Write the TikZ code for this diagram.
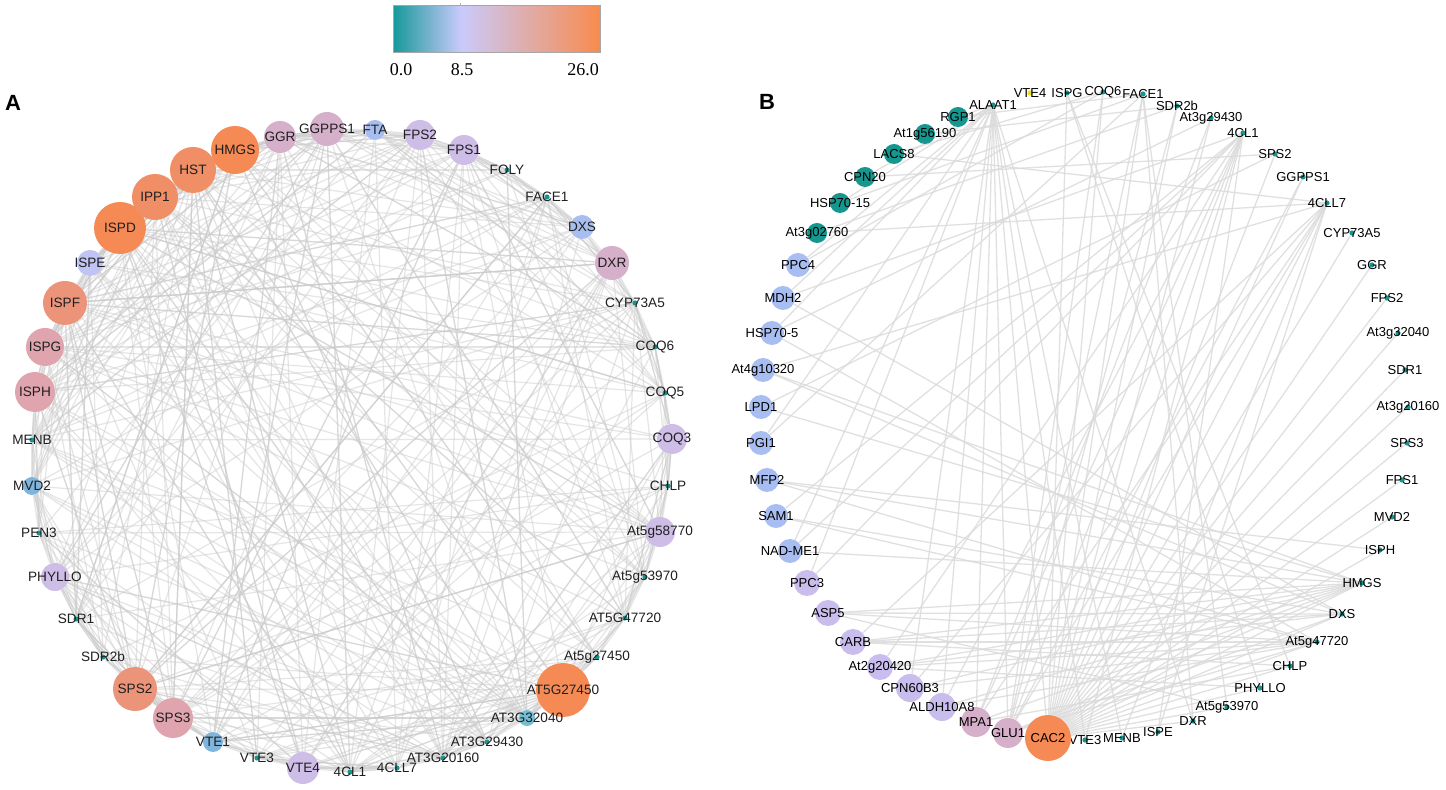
\documentclass[tikz,border=0pt]{standalone}
\usepackage{fontspec}
\setmainfont{Liberation Sans}
\newfontfamily\barfont{Liberation Serif}
\definecolor{cteal}{HTML}{15968F}
\definecolor{cbarteal}{HTML}{17999A}
\definecolor{cbarlav}{HTML}{CACAFB}
\definecolor{cbarorange}{HTML}{F88B4E}
\definecolor{corange}{HTML}{F58A55}
\definecolor{corange2}{HTML}{F08F66}
\definecolor{csalmon}{HTML}{EC9479}
\definecolor{cpink}{HTML}{DFA4AE}
\definecolor{cmauve}{HTML}{D6B0CA}
\definecolor{cpurple}{HTML}{CEBDE7}
\definecolor{cblue}{HTML}{A9BEF0}
\definecolor{cmblue}{HTML}{7FB4DC}
\definecolor{cltb}{HTML}{74BED3}
\definecolor{clav}{HTML}{BFC4F5}
\definecolor{cbblue}{HTML}{A8BDF1}
\definecolor{cblav}{HTML}{C8BDEC}
\definecolor{cyellow}{HTML}{E6E01E}
\pgfdeclarehorizontalshading{cbarshade}{100bp}{color(0bp)=(cbarteal); color(25bp)=(cbarteal); color(41.35bp)=(cbarlav); color(75bp)=(cbarorange); color(100bp)=(cbarorange)}
\pgfdeclarelayer{bg}
\pgfsetlayers{bg,main}
\tikzset{
  gn/.style={circle, draw=none, inner sep=0pt},
  lblA/.style={font=\fontsize{6.8}{7}\selectfont, text=black!88, inner sep=0pt},
  lblB/.style={font=\fontsize{6.5}{7}\selectfont, text=black, inner sep=0pt},
  edgeA/.style={draw=black!20, line width=0.6pt, opacity=0.5},
  edgeB/.style={draw=black!14, line width=0.65pt, opacity=0.85},
  panel/.style={font=\bfseries\fontsize{11}{12}\selectfont, inner sep=0pt},
  barlbl/.style={font=\barfont\fontsize{9}{10}\selectfont, inner sep=0pt}
}
\newcommand\NodeA[6]{\node[gn,fill=#5,minimum size=#4pt,label={[lblA]center:#6}] (#1) at (#2,#3) {};}
\newcommand\NodeB[6]{\node[gn,fill=#5,minimum size=#4pt,label={[lblB]center:#6}] (#1) at (#2,#3) {};}
\begin{document}
\begin{tikzpicture}[x=0.5pt,y=-0.5pt]
\useasboundingbox (0,0) rectangle (1446,790);
\begin{pgfonlayer}{bg}
\fill[white] (0,0) rectangle (1446,790);
\end{pgfonlayer}
% colour bar
\node[shading=cbarshade, draw=gray!70, line width=0.4pt, minimum width=103.5pt, minimum height=23.5pt, inner sep=0pt, anchor=north west] (cbar) at (393,5) {};
\draw[gray!60, line width=0.4pt] (460,3) -- (460,6);
\node[barlbl] (t0) at (401,70) {0.0};
\node[barlbl] (t1) at (462,70) {8.5};
\node[barlbl] (t2) at (583,70) {26.0};
\node[panel] (pA) at (13,103) {A};
\node[panel] (pB) at (767,102) {B};
% ---------------- panel A nodes
\NodeA{a1}{280}{137}{16}{cmauve}{GGR}
\NodeA{a2}{327}{129}{17}{cmauve}{GGPPS1}
\NodeA{a3}{375}{130}{10}{cblue}{FTA}
\NodeA{a4}{420}{135}{15}{cpurple}{FPS2}
\NodeA{a5}{464}{150}{15}{cpurple}{FPS1}
\NodeA{a6}{507}{170}{2.6}{cteal}{FOLY}
\NodeA{a7}{547}{197}{2.6}{cteal}{FACE1}
\NodeA{a8}{582}{227}{12}{cblue}{DXS}
\NodeA{a9}{612}{263}{17}{cmauve}{DXR}
\NodeA{a10}{635}{303}{2.6}{cteal}{CYP73A5}
\NodeA{a11}{655}{347}{2.6}{cteal}{COQ6}
\NodeA{a12}{665}{393}{2.6}{cteal}{COQ5}
\NodeA{a13}{672}{439}{15}{cpurple}{COQ3}
\NodeA{a14}{668}{486}{2.6}{cteal}{CHLP}
\NodeA{a15}{660}{532}{15}{cpurple}{At5g58770}
\NodeA{a16}{645}{577}{2.6}{cteal}{At5g53970}
\NodeA{a17}{625}{618}{2.6}{cteal}{AT5G47720}
\NodeA{a18}{597}{657}{2.6}{cteal}{At5g27450}
\NodeA{a19}{563}{690}{27}{corange}{AT5G27450}
\NodeA{a20}{527}{718}{8}{cltb}{AT3G32040}
\NodeA{a21}{487}{742}{2.6}{cteal}{AT3G29430}
\NodeA{a22}{443}{758}{2.6}{cteal}{AT3G20160}
\NodeA{a23}{397}{768}{2.6}{cteal}{4CLL7}
\NodeA{a24}{350}{772}{2.6}{cteal}{4CL1}
\NodeA{a25}{303}{768}{16}{cpurple}{VTE4}
\NodeA{a26}{257}{758}{2.6}{cteal}{VTE3}
\NodeA{a27}{213}{742}{10}{cmblue}{VTE1}
\NodeA{a28}{173}{718}{20}{cpink}{SPS3}
\NodeA{a29}{135}{689}{22}{csalmon}{SPS2}
\NodeA{a30}{103}{657}{2.6}{cteal}{SDR2b}
\NodeA{a31}{76}{619}{2.6}{cteal}{SDR1}
\NodeA{a32}{55}{577}{14}{cpurple}{PHYLLO}
\NodeA{a33}{39}{533}{2.6}{cteal}{PEN3}
\NodeA{a34}{32}{486}{9}{cmblue}{MVD2}
\NodeA{a35}{32}{440}{2.6}{cteal}{MENB}
\NodeA{a36}{35}{392}{20}{cpink}{ISPH}
\NodeA{a37}{45}{347}{19}{cpink}{ISPG}
\NodeA{a38}{65}{303}{22}{csalmon}{ISPF}
\NodeA{a39}{90}{263}{13}{clav}{ISPE}
\NodeA{a40}{120}{228}{26}{corange}{ISPD}
\NodeA{a41}{155}{197}{23}{corange2}{IPP1}
\NodeA{a42}{193}{170}{23}{corange2}{HST}
\NodeA{a43}{235}{150}{24}{corange}{HMGS}
% ---------------- panel B nodes
\NodeB{b1}{993}{105}{2.6}{cteal}{ALAAT1}
\NodeB{b2}{1030}{93}{2.6}{cyellow}{VTE4}
\NodeB{b3}{1067}{93}{2.6}{cteal}{ISPG}
\NodeB{b4}{1103}{92}{2.6}{cteal}{COQ6}
\NodeB{b5}{1143}{94}{2.6}{cteal}{FACE1}
\NodeB{b6}{1177}{106}{2.6}{cteal}{SDR2b}
\NodeB{b7}{1211}{118}{2.6}{cteal}{At3g29430}
\NodeB{b8}{1243}{133}{2.6}{cteal}{4CL1}
\NodeB{b9}{1275}{154}{2.6}{cteal}{SPS2}
\NodeB{b10}{1303}{177}{2.6}{cteal}{GGPPS1}
\NodeB{b11}{1327}{203}{2.6}{cteal}{4CLL7}
\NodeB{b12}{1352}{233}{2.6}{cteal}{CYP73A5}
\NodeB{b13}{1372}{265}{2.6}{cteal}{GGR}
\NodeB{b14}{1387}{298}{2.6}{cteal}{FPS2}
\NodeB{b15}{1398}{333}{2.6}{cteal}{At3g32040}
\NodeB{b16}{1405}{370}{2.6}{cteal}{SDR1}
\NodeB{b17}{1408}{407}{2.6}{cteal}{At3g20160}
\NodeB{b18}{1407}{443}{2.6}{cteal}{SPS3}
\NodeB{b19}{1402}{480}{2.6}{cteal}{FPS1}
\NodeB{b20}{1392}{517}{2.6}{cteal}{MVD2}
\NodeB{b21}{1380}{550}{2.6}{cteal}{ISPH}
\NodeB{b22}{1362}{583}{2.6}{cteal}{HMGS}
\NodeB{b23}{1342}{614}{2.6}{cteal}{DXS}
\NodeB{b24}{1317}{642}{2.6}{cteal}{At5g47720}
\NodeB{b25}{1290}{666}{2.6}{cteal}{CHLP}
\NodeB{b26}{1260}{688}{2.6}{cteal}{PHYLLO}
\NodeB{b27}{1227}{707}{2.6}{cteal}{At5g53970}
\NodeB{b28}{1193}{721}{2.6}{cteal}{DXR}
\NodeB{b29}{1158}{732}{2.6}{cteal}{ISPE}
\NodeB{b30}{1122}{738}{2.6}{cteal}{MENB}
\NodeB{b31}{1085}{740}{2.6}{cteal}{VTE3}
\NodeB{b32}{1048}{738}{23}{corange}{CAC2}
\NodeB{b33}{1008}{733}{15}{cmauve}{GLU1}
\NodeB{b34}{976}{722}{15}{cmauve}{MPA1}
\NodeB{b35}{942}{707}{14}{cblav}{ALDH10A8}
\NodeB{b36}{910}{688}{14}{cblav}{CPN60B3}
\NodeB{b37}{880}{667}{13}{cblav}{At2g20420}
\NodeB{b38}{853}{642}{13}{cblav}{CARB}
\NodeB{b39}{828}{613}{13}{cblav}{ASP5}
\NodeB{b40}{807}{583}{13}{cblav}{PPC3}
\NodeB{b41}{790}{551}{12}{cbblue}{NAD-ME1}
\NodeB{b42}{776}{516}{12}{cbblue}{SAM1}
\NodeB{b43}{767}{480}{12}{cbblue}{MFP2}
\NodeB{b44}{761}{443}{12}{cbblue}{PGI1}
\NodeB{b45}{761}{407}{12}{cbblue}{LPD1}
\NodeB{b46}{763}{370}{12}{cbblue}{At4g10320}
\NodeB{b47}{772}{333}{12}{cbblue}{HSP70-5}
\NodeB{b48}{783}{298}{12}{cbblue}{MDH2}
\NodeB{b49}{798}{265}{12}{cbblue}{PPC4}
\NodeB{b50}{817}{233}{10}{cteal}{At3g02760}
\NodeB{b51}{840}{203}{10}{cteal}{HSP70-15}
\NodeB{b52}{865}{177}{10}{cteal}{CPN20}
\NodeB{b53}{894}{154}{10}{cteal}{LACS8}
\NodeB{b54}{925}{134}{10}{cteal}{At1g56190}
\NodeB{b55}{958}{117}{10}{cteal}{RGP1}
% ---------------- edges
\begin{pgfonlayer}{bg}
\pgfmathsetseed{4242}
\foreach \i in {1,...,43} {
  \pgfmathtruncatemacro\jn{mod(\i,43)+1}
  \pgfmathtruncatemacro\jm{mod(\i+1,43)+1}
  \pgfmathtruncatemacro\jk{mod(\i+2,43)+1}
  \draw[edgeA] (a\i) -- (a\jn);
  \draw[edgeA] (a\i) -- (a\jm);
  \draw[edgeA] (a\i) -- (a\jk);
}
\foreach \i/\n in {1/9,2/9,3/5,4/7,5/7,6/3,7/3,8/5,9/9,10/3,11/3,12/3,13/7,14/3,15/7,16/3,17/3,18/3,19/14,20/4,21/3,22/3,23/3,24/3,25/7,26/3,27/5,28/10,29/12,30/3,31/3,32/7,33/3,34/5,35/3,36/10,37/10,38/12,39/5,40/14,41/14,42/14,43/14} {
  \pgfmathtruncatemacro\nn{1.6*\n}
  \foreach \k in {1,...,\nn} {
    \pgfmathrandominteger{\j}{1}{43}
    \ifnum\j=\i\relax\else
      \draw[edgeA] (a\i) -- (a\j);
    \fi
  }
}
\foreach \s/\t in {32/1,32/3,32/4,32/5,32/6,32/7,32/8,32/9,32/10,32/11,32/12,32/13,32/14,32/15,32/16,32/17,32/18,32/19,32/20,32/21,32/22,32/23,32/24,32/25,32/26,32/27,32/28,
  33/1,33/4,33/5,33/6,33/8,33/11,33/22,33/23,33/24,33/10,
  34/1,34/8,34/11,34/7,34/22,34/25,
  35/1,35/8,35/24,35/22,
  36/11,36/22,36/24,36/1,
  37/22,37/24,37/23,37/26,37/8,
  38/22,38/24,38/25,38/11,38/23,
  39/22,39/24,39/23,39/27,
  40/1,40/8,
  41/1,41/8,41/22,
  42/23,42/8,42/24,
  43/21,43/22,43/24,
  44/1,44/5,
  45/9,45/22,
  46/22,46/23,46/11,
  47/24,47/1,47/7,
  48/23,48/1,48/8,
  49/1,49/4,
  50/6,50/11,
  51/5,51/1,
  52/1,52/9,
  53/4,53/11,
  54/6,
  55/1,55/5,
  1/28,1/30,1/31,
  3/26,3/25,
  5/27,5/28,
  8/31,8/29,
  11/30,11/29} {
  \draw[edgeB] (b\s) -- (b\t);
}
\end{pgfonlayer}
\end{tikzpicture}
\end{document}
